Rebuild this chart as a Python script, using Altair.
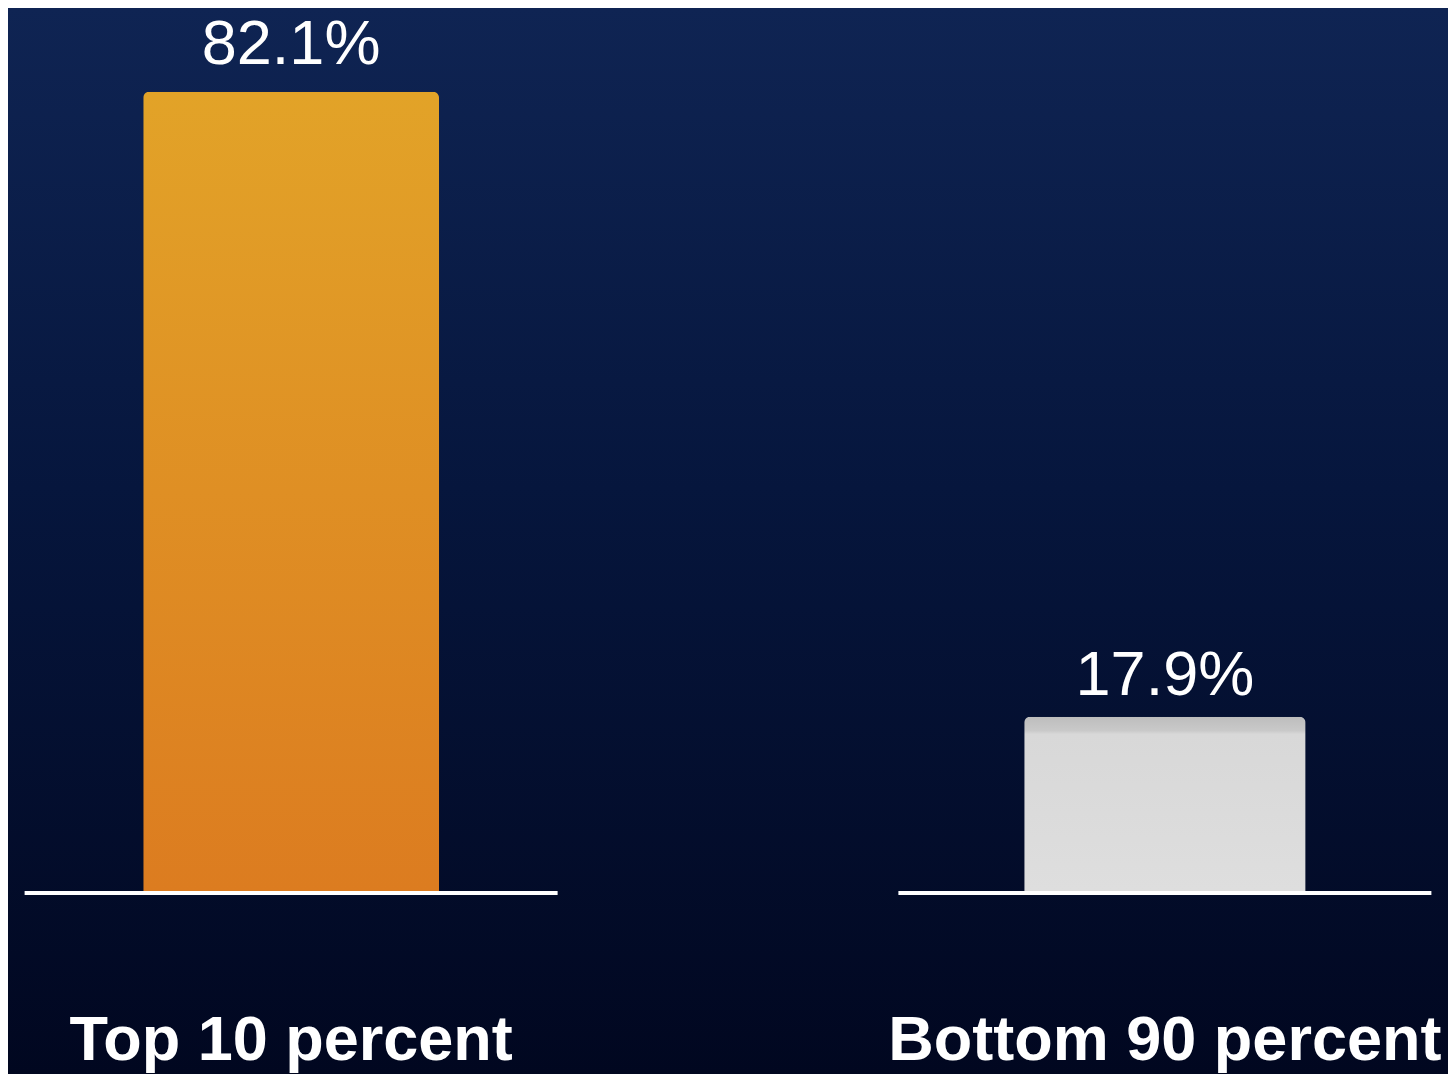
import altair as alt
import pandas as pd

categories = ["Top 10 percent", "Bottom 90 percent"]
values = [82.1, 17.9]
value_labels = ["82.1%", "17.9%"]

df = pd.DataFrame({"category": categories, "value": values, "label": value_labels})

W, H = 1440, 883
TOTAL_H = 1066

def grad(stops):
    return alt.LinearGradient(
        gradient="linear",
        stops=[alt.GradientStop(color=c, offset=o) for o, c in stops],
        x1=0, x2=0, y1=0, y2=1,
    )

x_enc = alt.X(
    "category:N",
    sort=categories,
    scale=alt.Scale(paddingInner=0.39, paddingOuter=0.019),
    axis=alt.Axis(
        title=None, domain=False, ticks=False, tickSize=0, labelAngle=0,
        labelFont="Liberation Sans", labelFontWeight="bold", labelFontSize=63,
        labelColor="white", labelPadding=168, labelBaseline="alphabetic",
        labelLimit=0, grid=False, zindex=2,
    ),
)
y_scale = alt.Scale(domain=[0, 90.7], nice=False, zero=True)
y_enc = alt.Y("value:Q", scale=y_scale, axis=None)

base = alt.Chart(df)

bg = base.transform_filter(alt.datum.category == categories[0]).mark_rect(
    color=grad([(0, "#0f2453"), (0.45, "#06163d"), (1, "#010720")])
).encode(
    x=alt.value(0), x2=alt.value(W), y=alt.value(0), y2=alt.value(TOTAL_H)
)

baseline = base.mark_tick(color="white", thickness=4, size=533, yOffset=2, opacity=1).encode(
    x=x_enc, y=alt.YDatum(0, scale=y_scale, axis=None)
)

bar_top = base.transform_filter(alt.datum.category == categories[0]).mark_bar(
    width={"band": 0.555},
    cornerRadiusTopLeft=6, cornerRadiusTopRight=6,
    color=grad([(0, "#e2a328"), (0.5, "#df8f24"), (1, "#dc7c20")]),
).encode(x=x_enc, y=y_enc)

bar_bot = base.transform_filter(alt.datum.category == categories[1]).mark_bar(
    width={"band": 0.528},
    cornerRadiusTopLeft=6, cornerRadiusTopRight=6,
    color=grad([(0, "#bdbdbd"), (0.08, "#c9c9c9"), (0.1, "#d8d8d8"), (1, "#dedede")]),
).encode(x=x_enc, y=y_enc)

text_style = dict(font="Liberation Sans", fontSize=63, color="white", baseline="alphabetic", align="center")

txt_top = base.transform_filter(alt.datum.category == categories[0]).mark_text(dy=-28, **text_style).encode(
    x=x_enc, y=y_enc, text="label:N"
)
txt_bot = base.transform_filter(alt.datum.category == categories[1]).mark_text(dy=-22, **text_style).encode(
    x=x_enc, y=y_enc, text="label:N"
)

chart = alt.layer(bg, bar_top, bar_bot, baseline, txt_top, txt_bot).properties(
    width=W, height=H,
    autosize=alt.AutoSizeParams(type="none"),
    padding={"left": 0, "top": 0, "right": 0, "bottom": TOTAL_H - H},
    background="#010720",
).configure_view(strokeWidth=0)

chart.save("out.html", embed_options={"renderer": "svg", "actions": False})
